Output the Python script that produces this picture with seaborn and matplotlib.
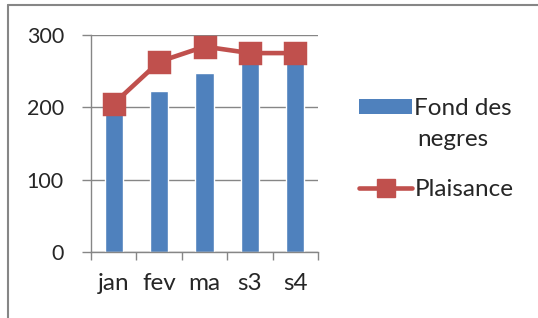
import seaborn as sns
import pandas as pd
import matplotlib.pyplot as plt
from matplotlib.lines import Line2D
from matplotlib.patches import Patch

months = ['jan', 'fev', 'ma', 's3', 's4']
fond_des_negres = [200, 222, 247, 268, 268]
plaisance = [205, 263, 284, 275, 275]

blue = '#4F81BD'
red = '#C0504D'
grey = '#868686'

sns.set_style('white')
plt.rcParams['font.family'] = ['Lato', 'DejaVu Sans']

df = pd.DataFrame({'month': months, 'fond': fond_des_negres, 'plaisance': plaisance})

fig = plt.figure(figsize=(5.38, 3.18), dpi=100)
ax = fig.add_axes([91 / 538, 1 - 252 / 318, 227 / 538, 217 / 318])

sns.barplot(data=df, x='month', y='fond', color=blue, saturation=1, width=0.4, ax=ax, zorder=2)
sns.pointplot(data=df, x='month', y='plaisance', color=red, markers='s', ax=ax,
              markersize=14, linewidth=3.3, zorder=3)

ax.set_ylim(0, 300)
ax.set_xlim(-0.5, 4.5)
ax.set_yticks([0, 100, 200, 300])
ax.yaxis.grid(True, color=grey, linewidth=1)
ax.set_axisbelow(True)
ax.set_xlabel('')
ax.set_ylabel('')
for s in ['top', 'right']:
    ax.spines[s].set_visible(False)
for s in ['left', 'bottom']:
    ax.spines[s].set_color(grey)
    ax.spines[s].set_linewidth(1)
ax.tick_params(axis='y', length=6.5, width=1, color=grey, pad=13, labelsize=15.5, left=True)
ax.tick_params(axis='x', which='major', length=0, pad=15, labelsize=17.5)
ax.set_xticks([-0.5, 0.5, 1.5, 2.5, 3.5, 4.5], minor=True)
ax.tick_params(axis='x', which='minor', length=6, width=1, color=grey, bottom=True)

# legend: first line of the bar label sits beside the patch, second line below
fs = 17.5
handles = [Patch(facecolor=blue, edgecolor='none'),
           Line2D([0], [0], color=red, linewidth=3.3, marker='s', markersize=13)]
leg = fig.legend(handles, ['Fond des', 'Plaisance'], loc='upper left',
                 bbox_to_anchor=(359 / 538, 1 - 98 / 318), frameon=False, fontsize=fs,
                 handlelength=2.2, handleheight=0.58, handletextpad=0.08,
                 labelspacing=2.47, borderpad=0, borderaxespad=0)
fig.text(417 / 538, 1 - 140 / 318, 'negres', fontsize=fs, va='center', ha='left')

fig.add_artist(Line2D([8 / 538, 8 / 538], [0, 1 - 5 / 318], color=grey, linewidth=1.5))
fig.add_artist(Line2D([8 / 538, 1], [1 - 5 / 318, 1 - 5 / 318], color=grey, linewidth=1.5))

fig.savefig('out.png', dpi=100)
